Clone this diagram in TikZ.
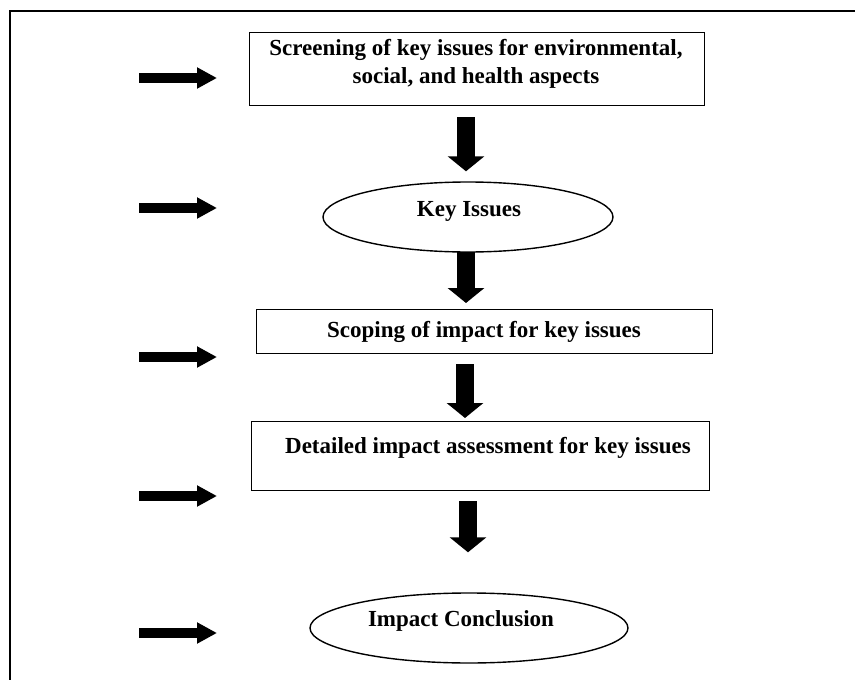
\documentclass[tikz,border=0pt]{standalone}
\usepackage{fontspec}
\setmainfont{Liberation Serif}
\usetikzlibrary{arrows.meta,shapes.geometric,calc}

\tikzset{
  stage/.style={draw, line width=1.4pt, rectangle, inner sep=0pt},
  oval/.style={draw, line width=1.4pt, ellipse, inner sep=0pt},
  label/.style={font=\bfseries\fontsize{23}{28}\selectfont, align=center, inner sep=0pt},
  flowdown/.style={line width=18pt, -{Triangle[width=36pt,length=15pt]}},
  pointer/.style={line width=10pt, -{Triangle[width=20pt,length=20pt]}},
}

\begin{document}
\begin{tikzpicture}[x=1pt,y=-1pt]
  \useasboundingbox (0,0) rectangle (855,680);
  \clip (0,0) rectangle (855,680);

  % outer frame, running past the right and bottom edges
  \draw[line width=2pt] (10,11) rectangle (900,720);

  % process stages
  \node[stage, minimum width=455pt, minimum height=73pt, anchor=north west] (s1) at (249,32) {};
  \node[label] (s1t) at (476,64) {Screening of key issues for environmental,\\ social, and health aspects};
  \node[oval, minimum width=290pt, minimum height=70pt] (k1) at (468,217) {};
  \node[label] (k1t) at (469,211) {Key Issues};
  \node[stage, minimum width=456pt, minimum height=44pt, anchor=north west] (s2) at (256,309) {};
  \node[label] (s2t) at (484,332) {Scoping of impact for key issues};
  \node[stage, minimum width=458pt, minimum height=69pt, anchor=north west] (s3) at (251,421) {};
  \node[label] (s3t) at (488,448) {Detailed impact assessment for key issues};
  \node[oval, minimum width=318pt, minimum height=70pt] (k2) at (469,628) {};
  \node[label] (k2t) at (461,621) {Impact Conclusion};

  % x positions of the downward arrows
  \coordinate (c1) at (466,0);
  \coordinate (c2) at (466,0);
  \coordinate (c3) at (465,0);
  \coordinate (c4) at (468,0);

  % flow between stages
  \draw[flowdown] ($(s1.south -| c1)+(0,11)$) -- ($(k1.north -| c1)+(0,-10)$);
  \draw[flowdown] ($(k1.south -| c2)+(0,-1)$) -- ($(s2.north -| c2)+(0,-6)$);
  \draw[flowdown] ($(s2.south -| c3)+(0,10)$) -- ($(s3.north -| c3)+(0,-3)$);
  \draw[flowdown] ($(s3.south -| c4)+(0,10)$) -- ($(k2.north -| c4)+(0,-40)$);

  % side pointers
  \foreach \y [count=\i] in {78,208,357,496,633} {
    \coordinate (p\i) at (139,\y);
    \coordinate (q\i) at (217,\y);
    \draw[pointer] (p\i) -- (q\i);
  }
\end{tikzpicture}
\end{document}
